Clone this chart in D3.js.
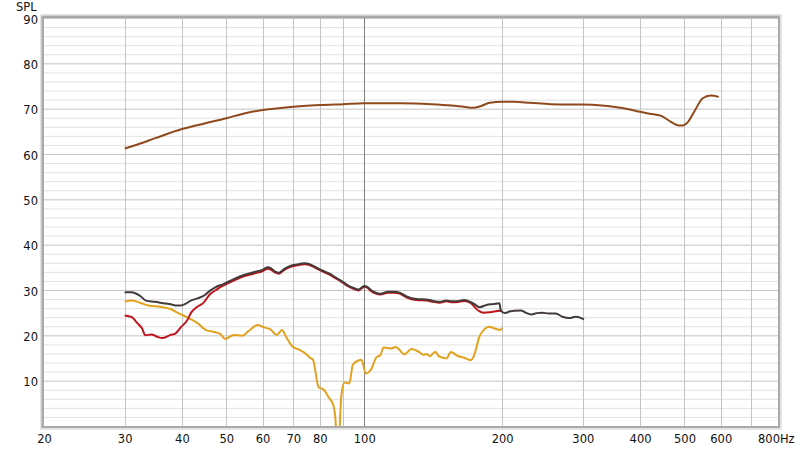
<!DOCTYPE html>
<html><head><meta charset="utf-8">
<script src="https://cdn.jsdelivr.net/npm/d3@7"></script>
<style>body{margin:0;background:#fff}svg{display:block}text{font-family:"DejaVu Sans",sans-serif;font-size:11.5px;fill:#111}</style>
</head><body><svg id="c" width="800" height="451"></svg>
<script>
const xTicks = [20,30,40,50,60,70,80,100,200,300,400,500,600,800];
const xTickLabels = ["20","30","40","50","60","70","80","100","200","300","400","500","600","800Hz"];
const xGrid = [30,40,50,60,70,80,90,100,200,300,400,500,600,700];
const yTicks = [10,20,30,40,50,60,70,80,90];

const brown = [[30,61.2],[32,62.1],[35,63.5],[40,65.5],[45,66.8],[50,67.9],[55,69.0],[60,69.7],[65,70.1],[70,70.4],[80,70.8],[90,71.0],[100,71.2],[120,71.2],[140,71.0],[155,70.7],[165,70.4],[173,70.2],[180,70.6],[188,71.3],[200,71.5],[212,71.5],[230,71.3],[255,71.0],[280,70.9],[300,70.9],[330,70.7],[350,70.4],[380,69.8],[400,69.3],[420,68.9],[445,68.4],[467,67.1],[485,66.3],[495,66.3],[510,67.2],[525,69.3],[548,72.3],[570,72.9],[594,72.6]];

const orange = [[30,27.4],[31.1,27.7],[32.4,27.2],[33.8,26.6],[35.9,26.3],[37.8,25.8],[38.9,25.1],[41.2,23.9],[43.1,22.8],[45.3,21.1],[46.9,20.8],[47.6,20.6],[48.4,20.4],[49.7,19.2],[51.9,20.1],[54.1,19.9],[56,21.0],[58.5,22.3],[60.2,21.8],[62.4,21.3],[64.4,20.1],[66.2,21.2],[67.5,19.7],[69.6,17.6],[72.2,16.8],[74,16.2],[76.3,15.0],[77.3,14.6],[79.5,8.6],[81.6,8.0],[83.7,6.3],[85.6,4.6],[86.6,1],[87.2,-6],[88.2,-2],[89.1,6.5],[90.5,9.6],[92.8,9.4],[94.4,13.5],[96.9,14.4],[98.6,14.6],[100.8,11.6],[103.4,12.4],[106.4,15.2],[108.4,15.6],[110.2,17.3],[114.3,17.1],[117.2,17.4],[119.3,16.8],[122.4,15.8],[126.8,17.0],[131.4,16.4],[134.5,15.7],[136.7,15.9],[139.1,15.4],[142.9,16.4],[145.4,15.4],[149.3,15.0],[151.1,14.9],[154.6,16.3],[159.6,15.5],[165.8,15.0],[170.3,14.5],[173.3,15.3],[178.5,19.8],[183.7,21.5],[187.2,21.9],[192.7,21.5],[198.3,21.2],[200,21.7]];

const red = [[30,24.4],[31.1,24.0],[31.9,22.8],[32.7,21.6],[33.3,20.0],[34.3,20.2],[35.3,19.7],[36.2,19.4],[37.8,20.1],[38.7,20.4],[39.8,21.8],[41.0,23.2],[41.9,25.0],[43.1,26.2],[44.5,27.1],[46.0,29.0],[47.6,30.1],[49.3,31.0],[51.9,32.1],[54.6,33.0],[57.3,33.6],[60.1,34.2],[61.6,34.7],[62.5,34.5],[63.8,33.9],[65.2,33.6],[66.8,34.4],[68.6,35.0],[71.0,35.4],[74.2,35.7],[76.0,35.5],[78.2,34.9],[81,34.1],[84,33.4],[86.5,32.6],[88.6,32.0],[91.9,30.9],[94.5,30.3],[97.2,29.9],[100,30.7],[101.5,30.5],[103.4,29.8],[106,29.2],[108.4,29.0],[112.8,29.4],[116,29.4],[119.5,29.2],[123.6,28.4],[129.9,27.8],[136.7,27.7],[141.3,27.4],[146.1,27.2],[151.1,27.5],[155,27.3],[158.8,27.3],[165.3,27.6],[171.0,27.1],[175,26.0],[178.5,25.3],[181.6,25.0],[188,25.1],[194,25.3],[200,25.5]];

const gray = [[30,29.5],[31.1,29.5],[32.3,28.8],[33.5,27.6],[34.9,27.4],[36.4,27.1],[38.0,26.8],[38.7,26.6],[39.8,26.6],[40.8,27.0],[41.9,27.7],[43.4,28.2],[44.9,28.9],[46.0,29.8],[47.3,30.6],[49.3,31.3],[51.9,32.4],[54.6,33.3],[57.3,33.9],[60.1,34.5],[61.6,35.0],[62.5,34.8],[63.8,34.1],[65.2,33.8],[66.8,34.6],[68.6,35.2],[71.0,35.6],[74.2,35.9],[76.0,35.7],[78.2,35.1],[81,34.3],[84,33.6],[86.5,32.8],[88.6,32.2],[91.9,31.1],[94.5,30.5],[97.2,30.1],[100,30.9],[101.5,30.7],[103.4,30.0],[106,29.4],[108.4,29.2],[112.8,29.6],[116,29.6],[119.5,29.4],[123.6,28.6],[129.9,28.0],[136.7,27.9],[141.3,27.6],[146.1,27.4],[151.1,27.7],[155,27.5],[158.8,27.5],[165.3,27.8],[171.0,27.3],[175,26.7],[178.5,26.2],[184.8,26.7],[191.3,26.9],[197.3,27.1],[198.7,25.4],[203.3,24.9],[208,25.3],[212.2,25.4],[219.7,25.5],[225,25.0],[231.7,24.6],[238,24.9],[244.5,25.0],[253,24.8],[261.9,24.8],[270.7,24.1],[279.9,23.8],[289.4,24.1],[296,23.9],[301.7,23.5]];

const L=44, R=778, T=18, B=426;
const svg = d3.select("#c");
const x = d3.scaleLog().domain([20,800]).range([L,R]);
const y = d3.scaleLinear().domain([0,90]).range([B,T]);

// frame shadow
svg.append("rect").attr("x",L-3).attr("y",T-3).attr("width",R-L+6).attr("height",B-T+6).attr("fill","none").attr("stroke","#e4e4e4").attr("stroke-width",2);
svg.append("rect").attr("x",L).attr("y",T).attr("width",R-L).attr("height",B-T).attr("fill","#fff");

// horizontal grid
const minor = d3.range(2,90,2).filter(v=>v%10!==0);
svg.append("g").selectAll("line").data(minor).join("line")
  .attr("x1",L).attr("x2",R).attr("y1",d=>y(d)+0.5).attr("y2",d=>y(d)+0.5)
  .attr("stroke","#e2e2e2").attr("stroke-width",1);
svg.append("g").selectAll("line").data(yTicks).join("line")
  .attr("x1",L).attr("x2",R).attr("y1",d=>y(d)+0.5).attr("y2",d=>y(d)+0.5)
  .attr("stroke","#c4c4c4").attr("stroke-width",1);
// vertical grid
svg.append("g").selectAll("line").data(xGrid).join("line")
  .attr("x1",d=>Math.round(x(d))+0.5).attr("x2",d=>Math.round(x(d))+0.5).attr("y1",T).attr("y2",B)
  .attr("stroke",d=>d===100?"#808080":"#c4c4c4").attr("stroke-width",1);

// lines
svg.append("clipPath").attr("id","pc").append("rect").attr("x",L).attr("y",T).attr("width",R-L).attr("height",B-T);
const line = d3.line().x(d=>x(d[0])).y(d=>y(d[1])).curve(d3.curveMonotoneX);
const g = svg.append("g").attr("clip-path","url(#pc)");
g.append("path").datum(brown).attr("d",line).attr("fill","none").attr("stroke","#8e4a1c").attr("stroke-width",2);
g.append("path").datum(orange).attr("d",line).attr("fill","none").attr("stroke","#e2a21e").attr("stroke-width",2);
g.append("path").datum(red).attr("d",line).attr("fill","none").attr("stroke","#c0141c").attr("stroke-width",2);
g.append("path").datum(gray).attr("d",line).attr("fill","none").attr("stroke","#433a3a").attr("stroke-width",2);

// frame border
svg.append("rect").attr("x",L-1).attr("y",T-1).attr("width",R-L+2).attr("height",B-T+2).attr("fill","none").attr("stroke","#a9a9a9").attr("stroke-width",2);
svg.append("line").attr("x1",L-2.5).attr("x2",L-2.5).attr("y1",T-2).attr("y2",B+2).attr("stroke","#c8c8c8").attr("stroke-width",1);
svg.append("line").attr("x1",L-2).attr("x2",R+2).attr("y1",T-2.5).attr("y2",T-2.5).attr("stroke","#d0d0d0").attr("stroke-width",1);

// y labels
svg.append("g").selectAll("text").data(yTicks).join("text")
  .attr("x",38).attr("y",d=>y(d)+2).attr("text-anchor","end").attr("dominant-baseline","middle").text(d=>d);
svg.append("text").attr("x",16).attr("y",11).text("SPL");
// x labels
svg.append("g").selectAll("text").data(xTicks).join("text")
  .attr("x",(d,i)=> i===xTicks.length-1 ? x(d)-20 : x(d)+0.5)
  .attr("y",443).attr("text-anchor",(d,i)=> i===xTicks.length-1 ? "start":"middle")
  .text((d,i)=>xTickLabels[i]);
</script></body></html>
